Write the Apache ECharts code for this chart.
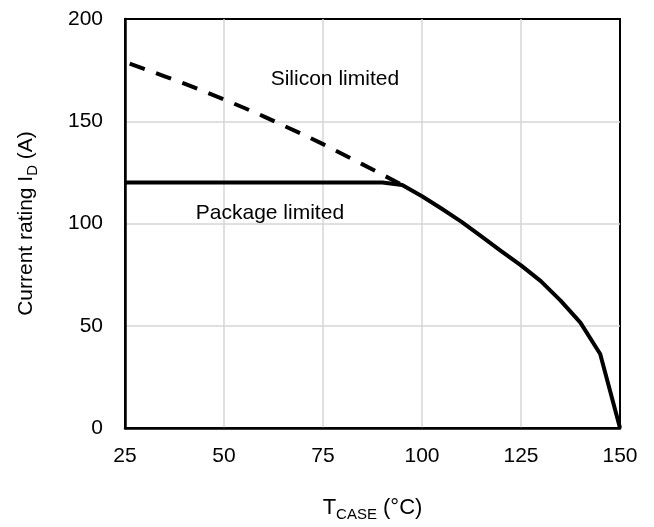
<!DOCTYPE html>
<html>
<head>
<meta charset="utf-8">
<script src="https://cdn.jsdelivr.net/npm/echarts@6/dist/echarts.min.js"></script>
<style>
html,body{margin:0;padding:0;background:#fff;}
#chart{width:654px;height:527px;}
</style>
</head>
<body>
<div id="chart"></div>
<script>
// Case temperature (°C)
var siliconTemps = [25, 30, 35, 40, 45, 50, 55, 60, 65, 70, 75, 80, 85, 90, 95];
// Silicon limited current (A), dashed
var siliconCurrent = [179, 175.5, 172, 168.4, 164.6, 160.7, 156.6, 152.4, 147.9, 143.5, 138.8, 133.9, 128.9, 123.9, 118.8];
// Package / actual rating curve (solid)
var ratingTemps = [25, 30, 35, 40, 45, 50, 55, 60, 65, 70, 75, 80, 85, 90, 95, 100, 105, 110, 115, 120, 125, 130, 135, 140, 145, 150];
var ratingCurrent = [120, 120, 120, 120, 120, 120, 120, 120, 120, 120, 120, 120, 120, 120, 118.8, 113.3, 107.2, 100.8, 93.7, 86.5, 79.5, 71.8, 62.3, 51.5, 36.2, 0];
// Annotation texts (placed at data coordinates)
var noteTexts = ['Silicon limited', 'Package limited'];
var noteTemps = [78, 61.6];
var noteCurrents = [170.4, 104.9];

var xTicks = [25, 50, 75, 100, 125, 150];
var yTicks = [0, 50, 100, 150, 200];

function zip(a, b) { return a.map(function (v, i) { return [v, b[i]]; }); }

var FONT = "'Liberation Sans', Arial, sans-serif";
var chart = echarts.init(document.getElementById('chart'), null, {renderer: 'canvas'});
chart.setOption({
  animation: false,
  backgroundColor: '#ffffff',
  grid: {
    left: 125, top: 19, width: 495, height: 412,
    show: true, borderColor: '#000', borderWidth: 2, backgroundColor: 'transparent'
  },
  xAxis: {
    type: 'value', min: xTicks[0], max: xTicks[xTicks.length - 1], interval: 25,
    axisLine: {show: true, onZero: false, lineStyle: {color: '#000', width: 2.5}},
    axisTick: {show: false},
    splitLine: {show: true, showMinLine: false, showMaxLine: false, lineStyle: {color: '#d6d6d6', width: 1.5}},
    axisLabel: {color: '#000', fontSize: 21, fontFamily: FONT, margin: 18},
    name: '{t|T}{s|CASE}{t| (°C)}',
    nameLocation: 'middle', nameGap: 67,
    nameTextStyle: {
      color: '#000', fontFamily: FONT,
      rich: {
        t: {fontSize: 22, fontFamily: FONT, color: '#000', verticalAlign: 'bottom', lineHeight: 24},
        s: {fontSize: 15, fontFamily: FONT, color: '#000', verticalAlign: 'bottom', lineHeight: 24, padding: [0, 0, -3, 0]}
      }
    }
  },
  yAxis: {
    type: 'value', min: yTicks[0], max: yTicks[yTicks.length - 1], interval: 50,
    axisLine: {show: true, onZero: false, lineStyle: {color: '#000', width: 2.5}},
    axisTick: {show: false},
    splitLine: {show: true, showMinLine: false, showMaxLine: false, lineStyle: {color: '#d6d6d6', width: 1.5}},
    axisLabel: {color: '#000', fontSize: 21, fontFamily: FONT, margin: 22},
    name: '{t|Current rating I}{s|D}{t| (A)}',
    nameLocation: 'middle', nameGap: 88, nameRotate: 90,
    nameTextStyle: {
      color: '#000', fontFamily: FONT,
      rich: {
        t: {fontSize: 21, fontFamily: FONT, color: '#000', verticalAlign: 'bottom', lineHeight: 24},
        s: {fontSize: 15, fontFamily: FONT, color: '#000', verticalAlign: 'bottom', lineHeight: 24, padding: [0, 0, -3, 0]}
      }
    }
  },
  series: [
    {
      type: 'line', name: 'Silicon limited', data: zip(siliconTemps, siliconCurrent),
      showSymbol: false, symbol: 'none', z: 3,
      lineStyle: {color: '#000', width: 4, type: [16, 12], dashOffset: -5, cap: 'butt'}
    },
    {
      type: 'line', name: 'Rating', data: zip(ratingTemps, ratingCurrent),
      showSymbol: false, symbol: 'none', z: 4,
      lineStyle: {color: '#000', width: 4, join: 'round'}
    },
    {
      type: 'scatter', symbolSize: 0, silent: true, z: 5,
      itemStyle: {opacity: 1, color: '#000'},
      data: noteTexts.map(function (t, i) { return {value: [noteTemps[i], noteCurrents[i]], name: t}; }),
      label: {
        show: true, position: 'inside', formatter: function (p) { return p.name; },
        color: '#000', opacity: 1, textBorderWidth: 0, fontSize: 21, fontFamily: FONT
      }
    }
  ]
});
</script>
</body>
</html>
